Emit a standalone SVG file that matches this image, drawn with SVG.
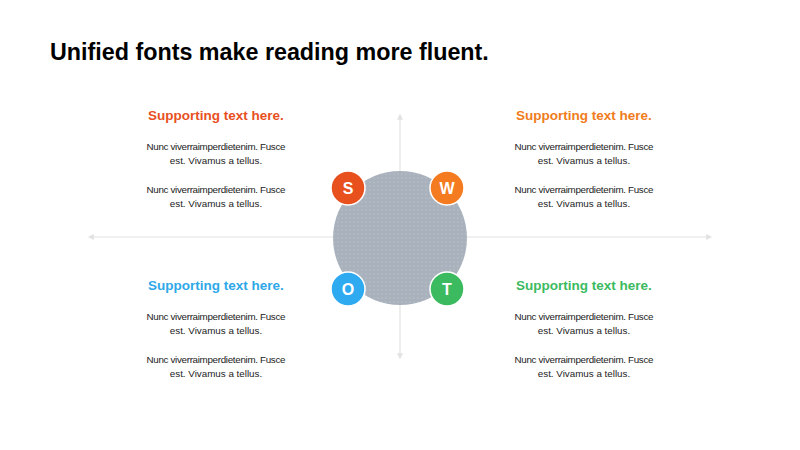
<svg xmlns="http://www.w3.org/2000/svg" width="800" height="450" viewBox="0 0 800 450">
<style>
.t{font-family:"Liberation Sans",Arial,sans-serif;}
.title{font-size:23.3px;font-weight:bold;fill:#000;}
.h{font-size:13.5px;font-weight:bold;text-anchor:middle;}
.b{font-size:9.8px;fill:#222;text-anchor:middle;}
.ax{stroke:#e2e2e2;stroke-width:1.2;fill:none;}
.l{font-size:16px;font-weight:bold;fill:#fff;text-anchor:middle;}
.sc{stroke:#fff;stroke-width:1.5;}
</style>
<defs>
<marker id="ar" viewBox="0 0 10 10" refX="8" refY="5" markerWidth="5" markerHeight="5" orient="auto-start-reverse"><path d="M0,0 L10,5 L0,10 z" fill="#e2e2e2"/></marker>
<pattern id="dots" width="4" height="4" patternUnits="userSpaceOnUse"><rect width="4" height="4" fill="#a9b2bc"/><circle cx="2" cy="2" r="0.6" fill="#c8ced6"/></pattern>
</defs>
<rect width="800" height="450" fill="#fff"/>
<text class="t title" x="50" y="60">Unified fonts make reading more fluent.</text>
<g id="connectors">
<line class="ax" x1="89" y1="237" x2="711" y2="237" marker-start="url(#ar)" marker-end="url(#ar)"/>
<line class="ax" x1="400" y1="115" x2="400" y2="358" marker-start="url(#ar)" marker-end="url(#ar)"/>
</g>
<g id="center"><circle cx="400" cy="238" r="67" fill="url(#dots)"/></g>
<g id="S"><circle class="sc" cx="348" cy="188" r="17" fill="#e8501e"/><text class="t l" x="348" y="194">S</text></g>
<g id="W"><circle class="sc" cx="447" cy="188" r="17" fill="#f47b20"/><text class="t l" x="447" y="194">W</text></g>
<g id="O"><circle class="sc" cx="348" cy="289" r="17" fill="#2eaaf0"/><text class="t l" x="348" y="295">O</text></g>
<g id="T"><circle class="sc" cx="447" cy="289" r="17" fill="#3cba5f"/><text class="t l" x="447" y="295">T</text></g>
<g id="tl" class="t">
<text class="h" x="216" y="120" fill="#e8501e">Supporting text here.</text>
<text class="b" x="216" y="150" textLength="139" lengthAdjust="spacing">Nunc viverraimperdietenim. Fusce</text>
<text class="b" x="216" y="164">est. Vivamus a tellus.</text>
<text class="b" x="216" y="193" textLength="139" lengthAdjust="spacing">Nunc viverraimperdietenim. Fusce</text>
<text class="b" x="216" y="207">est. Vivamus a tellus.</text>
</g>
<g id="tr" class="t">
<text class="h" x="584" y="120" fill="#f07c20">Supporting text here.</text>
<text class="b" x="584" y="150" textLength="139" lengthAdjust="spacing">Nunc viverraimperdietenim. Fusce</text>
<text class="b" x="584" y="164">est. Vivamus a tellus.</text>
<text class="b" x="584" y="193" textLength="139" lengthAdjust="spacing">Nunc viverraimperdietenim. Fusce</text>
<text class="b" x="584" y="207">est. Vivamus a tellus.</text>
</g>
<g id="bl" class="t">
<text class="h" x="216" y="290" fill="#2ea8e8">Supporting text here.</text>
<text class="b" x="216" y="320" textLength="139" lengthAdjust="spacing">Nunc viverraimperdietenim. Fusce</text>
<text class="b" x="216" y="334">est. Vivamus a tellus.</text>
<text class="b" x="216" y="363" textLength="139" lengthAdjust="spacing">Nunc viverraimperdietenim. Fusce</text>
<text class="b" x="216" y="377">est. Vivamus a tellus.</text>
</g>
<g id="br" class="t">
<text class="h" x="584" y="290" fill="#3cba5f">Supporting text here.</text>
<text class="b" x="584" y="320" textLength="139" lengthAdjust="spacing">Nunc viverraimperdietenim. Fusce</text>
<text class="b" x="584" y="334">est. Vivamus a tellus.</text>
<text class="b" x="584" y="363" textLength="139" lengthAdjust="spacing">Nunc viverraimperdietenim. Fusce</text>
<text class="b" x="584" y="377">est. Vivamus a tellus.</text>
</g>
</svg>
